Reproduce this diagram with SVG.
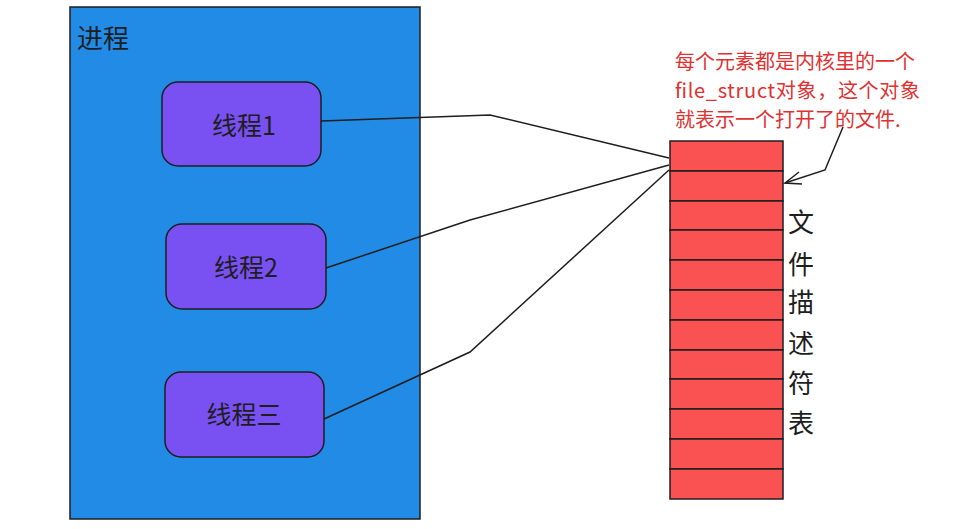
<svg xmlns="http://www.w3.org/2000/svg" width="956" height="529" viewBox="0 0 956 529">
<style>
.cjk{font-family:"Noto Sans CJK SC","Liberation Sans",sans-serif;fill:#1e1e1e}
.thread rect{fill:#7950f2;stroke:#1e1e1e;stroke-width:1.5}
.conn path{fill:none;stroke:#1e1e1e;stroke-width:1.5}
.row{fill:#fa5252;stroke:#1e1e1e;stroke-width:1.5}
.note{font-family:"Noto Sans CJK SC","Liberation Sans",sans-serif;fill:#e03131;font-size:20px}
</style>
<rect width="956" height="529" fill="#ffffff"/>
<g id="process">
<rect x="70" y="7" width="350" height="512" fill="#228be6" stroke="#1e1e1e" stroke-width="1.5"/>
<text class="cjk" x="77" y="48" font-size="26">进程</text>
</g>
<g id="thread1" class="thread">
<rect x="162" y="82" width="159" height="84" rx="16"/>
<text class="cjk" x="244" y="135" font-size="25" text-anchor="middle">线程1</text>
</g>
<g id="thread2" class="thread">
<rect x="166" y="224" width="160" height="85" rx="16"/>
<text class="cjk" x="246" y="277" font-size="25" text-anchor="middle">线程2</text>
</g>
<g id="thread3" class="thread">
<rect x="165" y="372" width="159" height="85" rx="16"/>
<text class="cjk" x="244" y="424" font-size="25" text-anchor="middle">线程三</text>
</g>
<g id="connectors" class="conn">
<path d="M321 121 L490 115 L669 158"/>
<path d="M326 268 L470 220 L669 165"/>
<path d="M324 419 L470 352 L669 170"/>
<path d="M843 127 L825 170 L785 183" stroke="#e03131"/>
<path d="M799 172 L785 183 L802 184" stroke="#e03131"/>
</g>
<g id="fd-table">
<rect class="row" x="670" y="141" width="113" height="30"/>
<rect class="row" x="670" y="171" width="113" height="30"/>
<rect class="row" x="670" y="201" width="113" height="29"/>
<rect class="row" x="670" y="230" width="113" height="30"/>
<rect class="row" x="670" y="260" width="113" height="30"/>
<rect class="row" x="670" y="290" width="113" height="30"/>
<rect class="row" x="670" y="320" width="113" height="30"/>
<rect class="row" x="670" y="350" width="113" height="29"/>
<rect class="row" x="670" y="379" width="113" height="30"/>
<rect class="row" x="670" y="409" width="113" height="30"/>
<rect class="row" x="670" y="439" width="113" height="30"/>
<rect class="row" x="670" y="469" width="113" height="30"/>
</g>
<g id="fd-label" class="cjk" font-size="26" text-anchor="middle">
<text x="801" y="232">文</text>
<text x="801" y="274">件</text>
<text x="801" y="312">描</text>
<text x="801" y="353">述</text>
<text x="801" y="393">符</text>
<text x="801" y="433">表</text>
</g>
<g id="note" class="note">
<text x="675" y="69">每个元素都是内核里的一个</text>
<text x="675" y="98" textLength="245" lengthAdjust="spacing">file_struct对象，这个对象</text>
<text x="675" y="127">就表示一个打开了的文件.</text>
</g>
</svg>
